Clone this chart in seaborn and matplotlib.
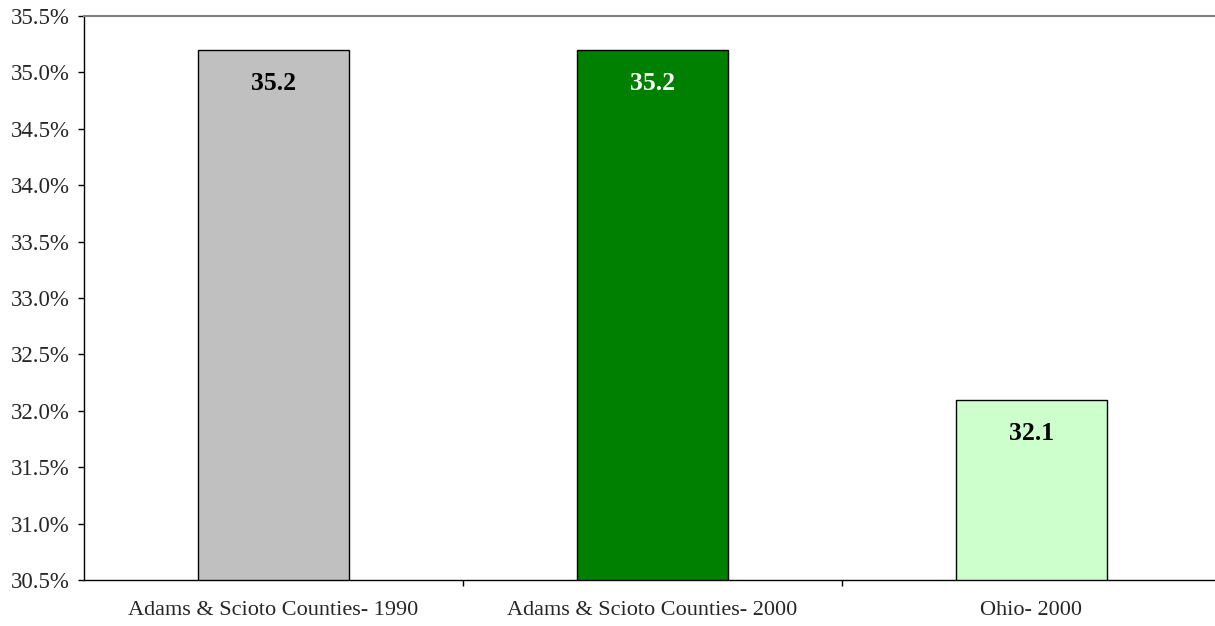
import numpy as np
import pandas as pd
import matplotlib
matplotlib.use("Agg")
import matplotlib.pyplot as plt
import seaborn as sns
from matplotlib.ticker import FuncFormatter, FixedLocator

categories = ["Adams & Scioto Counties- 1990", "Adams & Scioto Counties- 2000", "Ohio- 2000"]
values = [35.2, 35.2, 32.1]
bar_colors = ["#C0C0C0", "#008000", "#CCFFCC"]
label_colors = ["black", "white", "black"]

sns.set_theme(style="white")
plt.rcParams["font.family"] = ["Liberation Serif", "DejaVu Serif"]

df = pd.DataFrame({"category": categories, "value": values})

fig = plt.figure(figsize=(12.15, 6.26), dpi=100)
ax = fig.add_axes([84 / 1215, 1 - 580 / 626, 1137 / 1215, 564 / 626])

sns.barplot(data=df, x="category", y="value", hue="category", palette=bar_colors,
            saturation=1, width=0.4, edgecolor="black", linewidth=1,
            legend=False, ax=ax)

ax.set_ylim(30.5, 35.5)
ax.set_xlim(-0.5, 2.5)
ax.set_yticks(np.arange(30.5, 35.51, 0.5))
ax.yaxis.set_major_formatter(FuncFormatter(lambda v, p: f"{v:.1f}%"))
ax.tick_params(axis="y", direction="out", length=4.5, width=1, color="black",
               labelsize=16.5, left=True, pad=6)
ax.tick_params(axis="x", which="major", length=0, labelsize=16, pad=15)
ax.xaxis.set_minor_locator(FixedLocator([0.5, 1.5]))
ax.tick_params(axis="x", which="minor", direction="out", length=4.5, width=1,
               color="black", bottom=True)
ax.set_xlabel("")
ax.set_ylabel("")

for side in ["left", "bottom"]:
    ax.spines[side].set_color("black")
    ax.spines[side].set_linewidth(1)
ax.spines["top"].set_color("#808080")
ax.spines["top"].set_linewidth(1.5)
ax.spines["right"].set_visible(False)

for i, (v, c) in enumerate(zip(values, label_colors)):
    ax.text(i, v - 0.2, f"{v:.1f}", ha="center", va="top", fontsize=18.5,
            fontweight="bold", color=c)

fig.savefig("out.png", dpi=100)
